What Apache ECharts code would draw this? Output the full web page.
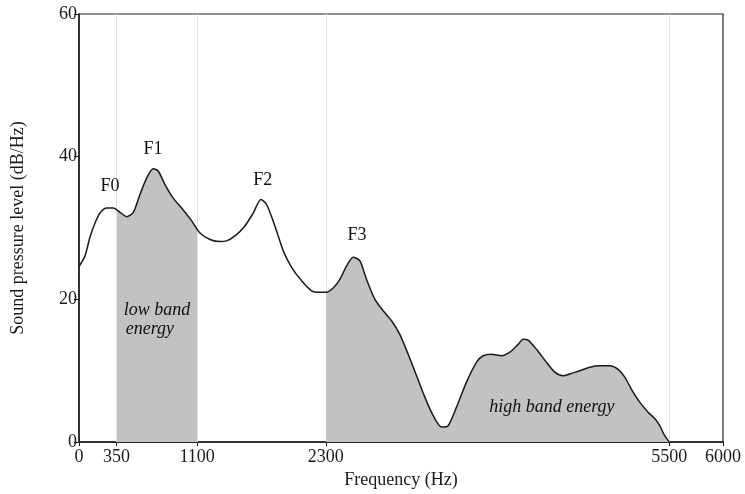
<!DOCTYPE html>
<html>
<head>
<meta charset="utf-8">
<script src="https://cdn.jsdelivr.net/npm/echarts@6/dist/echarts.min.js"></script>
<style>
html,body{margin:0;padding:0;background:#fff;}
#chart{width:745px;height:494px;}
</style>
</head>
<body>
<div id="chart"></div>
<script>
// Spectrum: frequency (Hz) and level (dB/Hz)
var freqHz = [0, 56, 102, 149, 196, 258, 319, 382, 444, 506, 568, 630, 692, 738, 801, 878, 956, 1050, 1127, 1220, 1313, 1375, 1453, 1546, 1623, 1695, 1748, 1825, 1903, 1981, 2074, 2167, 2244, 2304, 2368, 2430, 2493, 2554, 2617, 2679, 2757, 2834, 2912, 2989, 3067, 3145, 3222, 3300, 3378, 3439, 3517, 3610, 3704, 3765, 3843, 3936, 4014, 4091, 4138, 4184, 4262, 4355, 4433, 4510, 4603, 4666, 4759, 4852, 4945, 5022, 5085, 5147, 5224, 5302, 5364, 5411, 5457, 5500];
var levelDb = [24.6, 26.1, 28.7, 30.7, 32.1, 32.8, 32.8, 32.2, 31.6, 32.2, 34.7, 37.0, 38.3, 38.0, 36.1, 34.2, 32.8, 31.0, 29.3, 28.4, 28.1, 28.2, 28.9, 30.3, 32.1, 34.0, 33.3, 30.3, 26.8, 24.5, 22.6, 21.2, 21.0, 21.0, 21.6, 22.8, 24.7, 25.9, 25.4, 22.8, 20.0, 18.4, 17.0, 15.1, 12.3, 9.3, 6.3, 3.7, 2.1, 2.3, 4.9, 8.4, 11.2, 12.1, 12.3, 12.1, 12.6, 13.7, 14.4, 14.3, 13.0, 11.2, 9.8, 9.3, 9.7, 10.0, 10.5, 10.7, 10.7, 10.2, 9.1, 7.4, 5.6, 4.2, 3.3, 2.3, 0.9, 0];

// x tick labels and band boundaries
var xTicks = [0, 350, 1100, 2300, 5500, 6000];
var bandLines = [350, 1100, 2300, 5500];
var lowBand = [350, 1100];
var highBand = [2300, 5500];

// annotations: [freq, level, text, italic]
var annotations = [
  [289, 35.8, 'F0', false],
  [689, 41.1, 'F1', false],
  [1713, 36.7, 'F2', false],
  [2589, 29.0, 'F3', false],
  [726, 18.5, 'low band', true],
  [661, 15.8, 'energy', true],
  [4405, 4.95, 'high band energy', true]
];

var serif = '"Liberation Serif", "DejaVu Serif", serif';
var lineData = freqHz.map(function (f, i) { return [f, levelDb[i]]; });

var chart = echarts.init(document.getElementById('chart'), null, {renderer: 'canvas'});
chart.setOption({
  animation: false,
  backgroundColor: '#fff',
  grid: {left: 79, right: 22, top: 14, bottom: 51, show: true, borderColor: '#222', borderWidth: 1.2, backgroundColor: 'transparent'},
  visualMap: {
    type: 'piecewise',
    show: false,
    dimension: 0,
    seriesIndex: 0,
    pieces: [
      {gte: lowBand[0], lte: lowBand[1], color: '#c2c2c2'},
      {gte: highBand[0], lte: highBand[1], color: '#c2c2c2'}
    ],
    outOfRange: {color: 'rgba(255,255,255,0)'}
  },
  xAxis: {
    type: 'value', min: 0, max: 6000,
    name: 'Frequency (Hz)', nameLocation: 'middle', nameGap: 28,
    nameTextStyle: {fontFamily: serif, fontSize: 18, color: '#1a1a1a'},
    axisLine: {show: true, lineStyle: {color: '#1a1a1a', width: 1.5}},
    axisTick: {show: true, length: 4, customValues: xTicks, lineStyle: {color: '#1a1a1a'}},
    axisLabel: {customValues: xTicks, formatter: function (v) { return String(v); }, fontFamily: serif, fontSize: 18, color: '#1a1a1a', margin: 6},
    splitLine: {show: false}
  },
  yAxis: {
    type: 'value', min: 0, max: 60, interval: 20,
    name: 'Sound pressure level (dB/Hz)', nameLocation: 'middle', nameGap: 52,
    nameTextStyle: {fontFamily: serif, fontSize: 18, color: '#1a1a1a'},
    axisLine: {show: true, lineStyle: {color: '#1a1a1a', width: 1.5}},
    axisTick: {show: true, length: 5, lineStyle: {color: '#1a1a1a'}},
    axisLabel: {fontFamily: serif, fontSize: 18, color: '#1a1a1a', margin: 2},
    splitLine: {show: false}
  },
  series: [
    {
      type: 'line',
      data: lineData,
      symbol: 'none',
      smooth: 0.25,
      lineStyle: {color: '#1a1a1a', width: 1.5},
      areaStyle: {opacity: 1},
      z: 3,
      markLine: {
        silent: true,
        symbol: 'none',
        label: {show: false},
        lineStyle: {color: '#e2e2e2', width: 1, type: 'solid'},
        data: bandLines.map(function (v) { return {xAxis: v}; }),
        z: 1
      }
    },
    {
      type: 'scatter',
      symbolSize: 0,
      silent: true,
      z: 5,
      itemStyle: {opacity: 1},
      data: annotations.map(function (a) {
        return {
          value: [a[0], a[1]],
          label: {
            show: true, position: 'inside', formatter: a[2],
            fontFamily: serif, fontSize: 18, color: '#111',
            fontStyle: a[3] ? 'italic' : 'normal'
          }
        };
      })
    }
  ]
});
</script>
</body>
</html>
